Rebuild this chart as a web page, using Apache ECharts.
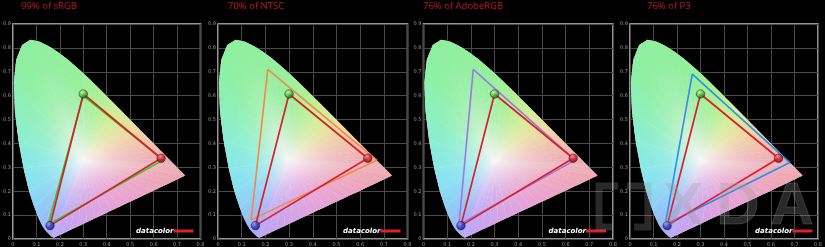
<!DOCTYPE html>
<html><head><meta charset="utf-8">
<script src="https://cdn.jsdelivr.net/npm/echarts@6/dist/echarts.min.js"></script>
<style>html,body{margin:0;padding:0;background:#000}#c{width:825px;height:247px}</style>
</head><body><div id="c"></div>
<script>
// ---- data ----
const titles = ['99% of sRGB', '70% of NTSC', '76% of AdobeRGB', '76% of P3'];
const xRange = [0, 0.8];
const yRange = [0, 0.9];
const tickStep = 0.1;
// CIE 1931 spectral locus (x, y), 380-680 nm every 5 nm, then 690, 700 nm
const locusNm = [];
for (let w = 380; w <= 680; w += 5) locusNm.push(w);
locusNm.push(690, 700);
const locus = [
 [0.1741,0.0050],[0.1740,0.0050],[0.1738,0.0049],[0.1736,0.0049],[0.1733,0.0048],[0.1730,0.0048],
 [0.1726,0.0048],[0.1721,0.0048],[0.1714,0.0051],[0.1703,0.0058],[0.1689,0.0069],[0.1669,0.0086],
 [0.1644,0.0109],[0.1611,0.0138],[0.1566,0.0177],[0.1510,0.0227],[0.1440,0.0297],[0.1355,0.0399],
 [0.1241,0.0578],[0.1096,0.0868],[0.0913,0.1327],[0.0687,0.2007],[0.0454,0.2950],[0.0235,0.4127],
 [0.0082,0.5384],[0.0039,0.6548],[0.0139,0.7502],[0.0389,0.8120],[0.0743,0.8338],[0.1142,0.8262],
 [0.1547,0.8059],[0.1929,0.7816],[0.2296,0.7543],[0.2658,0.7243],[0.3016,0.6923],[0.3373,0.6589],
 [0.3731,0.6245],[0.4087,0.5896],[0.4441,0.5547],[0.4788,0.5202],[0.5125,0.4866],[0.5448,0.4544],
 [0.5752,0.4242],[0.6029,0.3965],[0.6270,0.3725],[0.6482,0.3514],[0.6658,0.3340],[0.6801,0.3197],
 [0.6915,0.3083],[0.7006,0.2993],[0.7079,0.2920],[0.7140,0.2859],[0.7190,0.2809],[0.7230,0.2770],
 [0.7260,0.2740],[0.7283,0.2717],[0.7300,0.2700],[0.7311,0.2689],[0.7320,0.2680],[0.7327,0.2673],
 [0.7334,0.2666],[0.7344,0.2656],[0.7347,0.2653]
];
const whitePoint = [0.30, 0.33];
const measured = [[0.632, 0.338], [0.300, 0.607], [0.158, 0.056]];
const srgbRef  = [[0.64, 0.33], [0.30, 0.60], [0.15, 0.06]];
const ntscRef  = [[0.67, 0.33], [0.21, 0.71], [0.14, 0.08]];
const adobeRef = [[0.64, 0.33], [0.21, 0.71], [0.15, 0.06]];
const p3Ref    = [[0.68, 0.32], [0.265, 0.69], [0.15, 0.06]];
const references = [srgbRef, ntscRef, adobeRef, p3Ref];

// ---- styles ----
const refColors = ['#33c82c', '#f08a4a', '#9a7ae0', '#2f8fe0'];
const measColor = '#d8202a';
const gridLefts = [11, 218, 423.5, 630];
const gridTop = 24, gridW = 189.5, gridH = 215;
const titleLefts = [21, 228, 423, 647];
// pastel colours along the spectral edge (by wavelength)
const edgePalette = [
 [380, [190,164,246]], [440, [172,164,248]], [460, [158,170,248]], [475, [146,196,246]],
 [485, [138,222,242]], [492, [138,236,228]], [500, [140,240,190]], [510, [140,240,160]],
 [545, [146,240,154]], [560, [172,240,148]], [572, [212,238,150]], [582, [236,220,162]],
 [595, [242,190,174]], [610, [240,170,178]], [700, [240,166,176]]
];
const purpleMid = [232, 162, 214];
const centerRGB = [247, 245, 246];

function edgeColorNm(w) {
  for (let k = 0; k < edgePalette.length - 1; k++) {
    const a = edgePalette[k], b = edgePalette[k + 1];
    if (w >= a[0] && w <= b[0]) {
      const t = (w - a[0]) / (b[0] - a[0]);
      return a[1].map((v, j) => v + (b[1][j] - v) * t);
    }
  }
  return edgePalette[edgePalette.length - 1][1];
}
const mixC = (a, b, t) => a.map((v, j) => v + (b[j] - v) * t);
const css = c => 'rgb(' + c.map(v => Math.round(v)).join(',') + ')';

function horseshoe(gi) {
  return {
    type: 'custom', xAxisIndex: gi, yAxisIndex: gi, data: [[0, 0]], clip: false, silent: true, z: 1,
    renderItem: function (params, api) {
      const c = api.coord(whitePoint);
      // boundary (pixels) + colour; purple line split for a smooth fill
      const raw = [], rawC = [];
      locus.forEach((p, i) => { raw.push(api.coord(p)); rawC.push(edgeColorNm(locusNm[i])); });
      const a0 = locus[locus.length - 1], a1 = locus[0];
      const n = 16;
      const cR = edgePalette[edgePalette.length - 1][1], cV = edgePalette[0][1];
      for (let k = 1; k < n; k++) {
        const t = k / n;
        raw.push(api.coord([a0[0] + (a1[0] - a0[0]) * t, a0[1] + (a1[1] - a0[1]) * t]));
        rawC.push(t < 0.5 ? mixC(cR, purpleMid, t * 2) : mixC(purpleMid, cV, (t - 0.5) * 2));
      }
      // drop points closer than ~2.5 px to avoid sliver triangles
      const bp = [raw[0]], bc = [rawC[0]];
      for (let i = 1; i < raw.length; i++) {
        const L = bp[bp.length - 1];
        const d = Math.hypot(raw[i][0] - L[0], raw[i][1] - L[1]);
        if (d >= 2.5 || i === locus.length - 1) { bp.push(raw[i]); bc.push(rawC[i]); }
      }
      const sat = t => 1 - Math.pow(1 - t, 2.3);
      const children = [];
      // base layer (hides seams)
      children.push({ type: 'polygon', shape: { points: bp },
        style: { fill: { type: 'radial', x: c[0], y: c[1], r: 110, global: true,
          colorStops: [{ offset: 0, color: css(centerRGB) }, { offset: 1, color: 'rgb(214,206,222)' }] } } });
      const sub = 4;
      for (let i = 0; i < bp.length; i++) {
        const j = (i + 1) % bp.length;
        const A = bp[i], B = bp[j];
        for (let s = 0; s < sub; s++) {
          const u0 = s / sub, u1 = (s + 1) / sub, u1e = s < sub - 1 ? (s + 1.3) / sub : u1;
          const pA = [A[0] + (B[0] - A[0]) * u0, A[1] + (B[1] - A[1]) * u0];
          const pB = [A[0] + (B[0] - A[0]) * u1, A[1] + (B[1] - A[1]) * u1];
          const pBe = [A[0] + (B[0] - A[0]) * u1e, A[1] + (B[1] - A[1]) * u1e];
          const ec = mixC(bc[i], bc[j], (u0 + u1) / 2);
          const m = [(pA[0] + pB[0]) / 2, (pA[1] + pB[1]) / 2];
          const stops = [];
          for (let q = 0; q <= 8; q++) {
            const t = q / 8;
            stops.push({ offset: t, color: css(mixC(centerRGB, ec, sat(t))) });
          }
          children.push({ type: 'polygon', shape: { points: [c, pA, pBe] },
            style: { fill: { type: 'linear', x: c[0], y: c[1], x2: m[0], y2: m[1], global: true, colorStops: stops } } });
        }
      }
      return { type: 'group', children: children };
    }
  };
}

const ball = (hi, base, dark) => ({
  type: 'radial', x: 0.38, y: 0.32, r: 0.7,
  colorStops: [{ offset: 0, color: hi }, { offset: 0.5, color: base }, { offset: 1, color: dark }]
});
const ballColors = [ball('#ff9a9a', '#d01c28', '#5a0008'), ball('#c0ffb0', '#54c040', '#184c12'), ball('#a0a4ff', '#3034d0', '#0c0c58')];

const grids = [], xAxes = [], yAxes = [], series = [], titleArr = [], graphics = [];
for (let i = 0; i < 4; i++) {
  grids.push({ left: gridLefts[i], top: gridTop, width: gridW, height: gridH, show: true,
    backgroundColor: '#000', borderColor: '#c4c4c4', borderWidth: 1.5, containLabel: false });
  const lab = { fontSize: 5, color: '#9a9a9a', fontFamily: 'DejaVu Sans', formatter: v => v === 0 ? '0' : v.toFixed(1) };
  xAxes.push({ type: 'value', gridIndex: i, min: xRange[0], max: xRange[1], interval: tickStep,
    axisLine: { show: false }, axisTick: { show: false },
    axisLabel: Object.assign({ margin: 3 }, lab),
    splitLine: { show: true, lineStyle: { color: '#4a4a4a', width: 1 } } });
  yAxes.push({ type: 'value', gridIndex: i, min: yRange[0], max: yRange[1], interval: tickStep,
    axisLine: { show: false }, axisTick: { show: false },
    axisLabel: Object.assign({ margin: 2 }, lab),
    splitLine: { show: true, lineStyle: { color: '#4a4a4a', width: 1 } } });
  series.push(horseshoe(i));
  const ref = references[i];
  series.push({ type: 'line', xAxisIndex: i, yAxisIndex: i, data: ref.concat([ref[0]]), symbol: 'none',
    lineStyle: { color: refColors[i], width: 1.6 }, z: 3, silent: true, animation: false });
  series.push({ type: 'line', xAxisIndex: i, yAxisIndex: i, data: measured.concat([measured[0]]), symbol: 'none',
    lineStyle: { color: measColor, width: 1.7 }, z: 4, silent: true, animation: false });
  series.push({ type: 'scatter', xAxisIndex: i, yAxisIndex: i, symbolSize: 8.5, z: 5, silent: true, animation: false,
    data: measured.map((p, k) => ({ value: p, itemStyle: { color: ballColors[k], borderColor: 'rgba(20,20,20,0.8)', borderWidth: 0.7 } })) });
  titleArr.push({ text: titles[i], left: titleLefts[i], top: 1, padding: 0,
    textStyle: { color: '#c4142c', fontSize: 9.5, fontWeight: 'normal', fontFamily: 'Open Sans' } });
  const R = gridLefts[i] + gridW, B = gridTop + gridH;
  graphics.push({ type: 'text', x: R - 27, y: B - 8,
    style: { text: 'datacolor', align: 'right', verticalAlign: 'middle', fill: '#ffffff',
      font: 'italic bold 7px DejaVu Sans' }, z: 10 });
  graphics.push({ type: 'rect', x: R - 27, y: B - 9.5, shape: { width: 20, height: 3 },
    style: { fill: '#e0202a' }, z: 10 });
}
// XDA watermark
const wmFill = 'rgba(150,150,150,0.27)';
[['X', 683], ['D', 738], ['A', 792]].forEach(([t, x]) => {
  graphics.push({ type: 'text', x: x, y: 207, z: 20,
    style: { text: t, align: 'center', verticalAlign: 'middle', font: 'bold 60px Liberation Sans',
      fill: wmFill, stroke: 'rgba(210,210,210,0.18)', lineWidth: 1 } });
});
graphics.push({ type: 'polyline', z: 20, shape: { points: [[618, 186], [599, 186], [599, 227], [612, 227]] },
  style: { stroke: wmFill, lineWidth: 7, fill: null } });
graphics.push({ type: 'polyline', z: 20, shape: { points: [[627, 186], [648, 186], [648, 227], [634, 227]] },
  style: { stroke: wmFill, lineWidth: 7, fill: null } });

const chart = echarts.init(document.getElementById('c'), null, { renderer: 'canvas' });
chart.setOption({
  backgroundColor: '#000', animation: false,
  title: titleArr, grid: grids, xAxis: xAxes, yAxis: yAxes, series: series, graphic: graphics
});
</script></body></html>
